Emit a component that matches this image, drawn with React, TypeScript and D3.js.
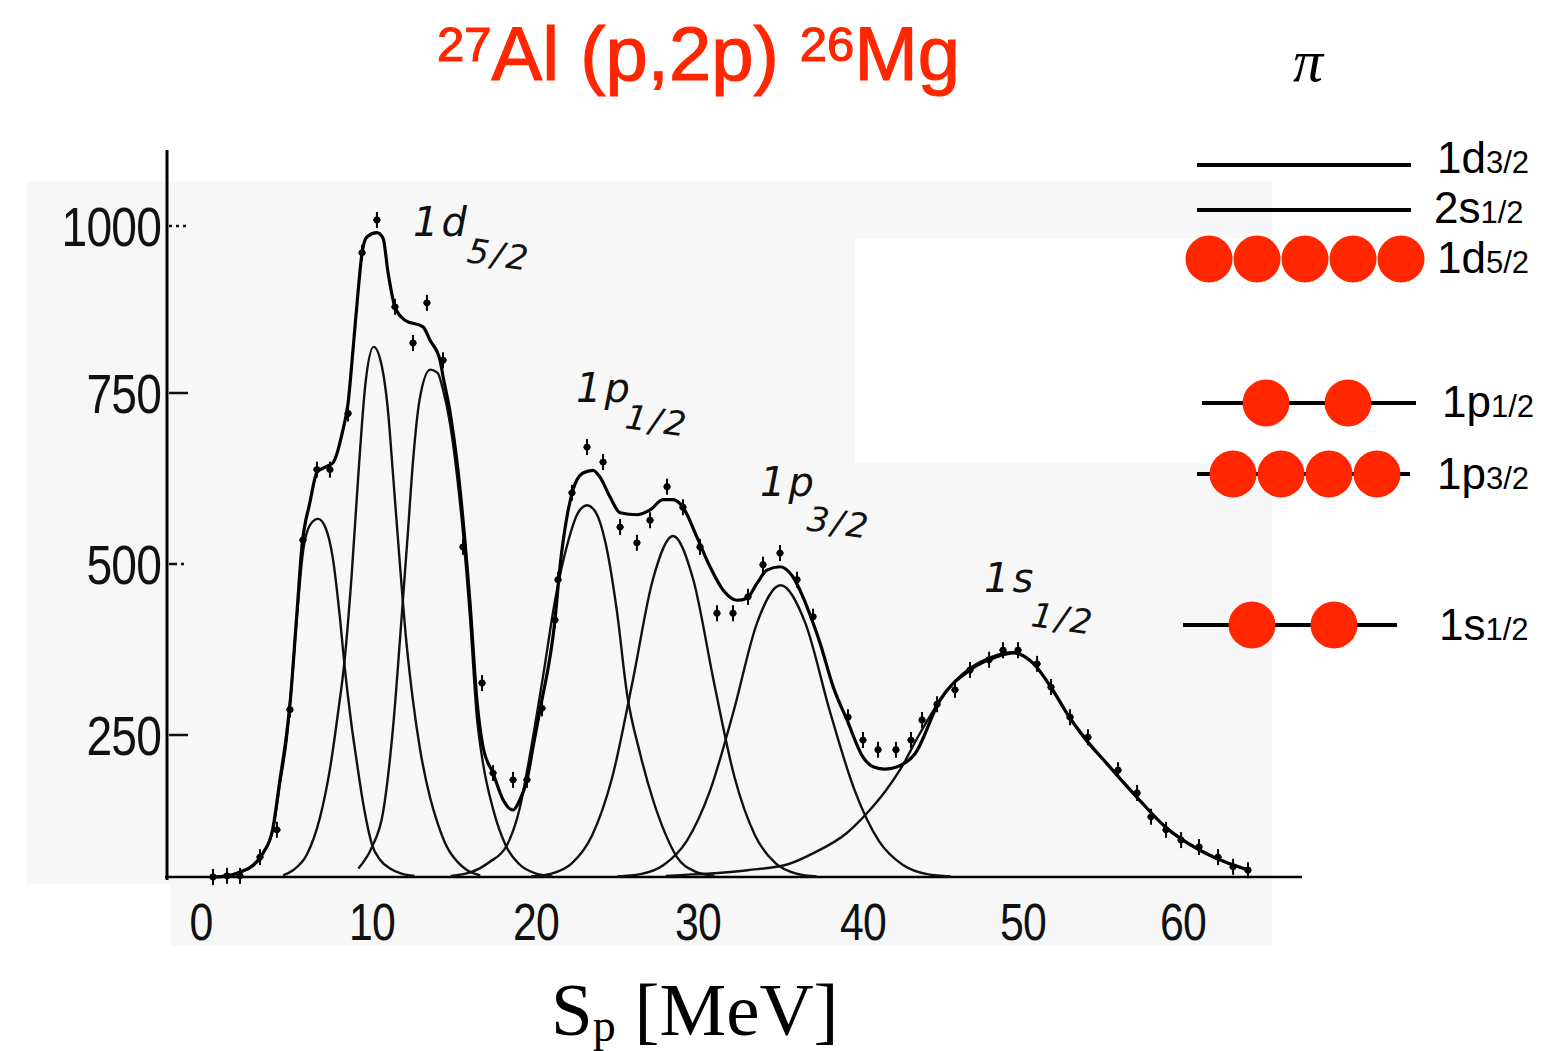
import React from "react";
import * as d3 from "d3";

// ---------- data (MeV, counts) ----------
const xTickValues = [0, 10, 20, 30, 40, 50, 60];
const yTickValues = [250, 500, 750, 1000];

// fitted components
const comp1d52a: [number, number][] = [[2.0,4],[2.8,16],[3.45,35],[4.2,83],[4.62,165],[5.0,240],[5.2,293],[5.6,420],[5.95,515],[6.4,558],[6.85,566],[7.3,552],[7.7,510],[8.13,420],[8.4,350],[8.8,265],[9.1,205],[9.42,141],[9.7,95],[10.0,57],[10.5,30],[11.1,15],[11.8,6],[12.6,2]];
const comp1d52b: [number, number][] = [[4.8,3],[5.38,12],[6.2,40],[6.96,105],[7.54,190],[8.0,280],[8.4,360],[8.8,480],[9.2,630],[9.6,760],[10.1,819],[10.6,790],[10.95,730],[11.3,625],[11.7,500],[12.1,385],[12.5,300],[12.93,225],[13.54,140],[14.0,95],[14.57,53],[15.2,27],[15.8,12],[16.6,3]];
const comp1d52c: [number, number][] = [[9.2,15],[10.0,53],[10.67,113],[11.28,260],[11.8,420],[12.2,550],[12.5,650],[12.9,740],[13.55,785],[14.0,780],[14.33,755],[14.76,705],[15.18,630],[15.49,560],[15.98,420],[16.4,275],[16.77,200],[17.38,120],[18.2,53],[19.0,22],[20.0,6],[21.0,1]];
const comp1p12: [number, number][] = [[14.8,2],[16.0,8],[17.15,26],[18.21,55],[19.0,120],[19.63,215],[20.43,335],[21.2,450],[21.95,530],[22.6,575],[23.15,586],[23.7,575],[24.3,530],[25.0,430],[25.62,310],[26.42,218],[27.22,136],[28.0,75],[28.7,35],[29.8,10],[31.0,2]];
const comp1p32a: [number, number][] = [[19.7,1],[20.96,6],[22.21,24],[23.46,73],[24.71,176],[25.96,328],[27.21,477],[28.46,541],[29.71,477],[30.96,328],[32.21,176],[33.46,73],[34.71,24],[35.96,6],[37.2,1]];
const comp1p32b: [number, number][] = [[25.0,1],[26.45,5],[27.88,21],[29.3,63],[30.73,152],[32.15,284],[33.58,414],[35.0,469],[36.5,414],[38.0,284],[39.5,152],[41.0,63],[42.5,21],[44.0,5],[45.5,1]];
const comp1s12: [number, number][] = [[28,2],[30,5],[33,12],[35.4,22],[37,42],[39,77],[40.3,114],[41.5,155],[42.3,188],[43.5,250],[44.8,300],[45.8,330],[46.7,348],[48,364],[49.3,371],[50.6,355],[51.8,318],[52.9,276],[54,238],[55.2,201],[57.1,141],[58.9,88],[61,48],[62.5,28],[64.1,12]];

// total fitted spectrum
const totalFit: [number, number][] = [[0.7,0],[1.5,2],[2.3,9],[3.04,20],[3.63,42],[4.2,85],[4.62,172],[5.0,250],[5.2,295],[5.6,425],[5.9,525],[6.37,590],[6.8,635],[7.3,642],[7.72,648],[8.3,696],[8.6,735],[8.89,815],[9.18,900],[9.42,960],[9.71,984],[10.3,990],[10.67,982],[10.98,930],[11.4,879],[12.01,859],[13.11,849],[13.54,829],[14.15,799],[14.33,775],[14.76,722],[15.18,650],[15.49,580],[15.98,442],[16.4,300],[16.77,229],[17.38,183],[17.99,136],[18.6,118],[19.02,136],[19.45,171],[19.82,229],[20.25,287],[21.17,418],[21.48,496],[21.91,569],[22.28,608],[22.9,633],[23.52,637],[23.95,627],[24.57,598],[25.19,575],[26.23,572],[27.04,579],[27.84,594],[28.46,594],[29.07,583],[29.94,539],[30.73,496],[31.52,462],[32.36,447],[32.97,450],[33.58,472],[34.18,491],[34.97,496],[35.76,481],[36.36,452],[36.97,414],[37.39,385],[38.2,320],[39.03,272],[40.0,211],[40.63,194],[41.3,190],[41.88,192],[43.25,217],[44.81,301],[46.69,345],[48.31,364],[49.44,370],[50.63,355],[51.8,318],[52.9,276],[54,240],[55.2,201],[57.1,141],[58.9,88],[61,48],[62.5,28],[64.1,12]];

// measured points
const measured: [number, number][] = [[0.7,0],[1.52,2],[2.28,2],[3.45,35],[4.44,83],[5.2,287],[5.96,535],[6.78,638],[7.54,638],[8.6,720],[9.42,960],[10.3,1009],[11.4,879],[12.5,825],[13.35,885],[14.33,799],[15.55,525],[16.71,326],[17.38,183],[18.6,171],[19.45,171],[20.37,289],[21.17,418],[21.36,477],[22.22,604],[23.15,671],[24.14,649],[25.19,554],[26.23,531],[27.04,564],[28.09,613],[29.07,583],[30.12,525],[31.15,428],[32.12,428],[33.03,452],[33.94,499],[34.97,516],[36.0,477],[36.97,423],[39.09,276],[40.0,241],[40.94,224],[42.06,224],[43.0,241],[43.69,272],[44.63,295],[45.75,316],[46.69,345],[47.88,360],[48.75,374],[49.69,374],[50.88,354],[51.75,320],[52.94,276],[54.06,246],[55.94,188],[57.13,148],[58.0,106],[58.94,83],[59.88,65],[61.0,53],[62.19,35],[63.13,18],[64.06,12]];

// shell-model levels (proton)
const levelOrbit = ["1d", "2s", "1d", "1p", "1p", "1s"];
const levelJ = ["3/2", "1/2", "5/2", "1/2", "3/2", "1/2"];
const levelOccupancy = [0, 0, 5, 2, 4, 2];

// peak annotations
const peakOrbit = ["1d", "1p", "1p", "1s"];
const peakJ = ["5/2", "1/2", "3/2", "1/2"];

const RED = "#ff2600";
const PAPER = "#f7f7f7";

export default function App() {
  const x = d3.scaleLinear().domain(xTickValues).range([201, 372, 536, 698, 863, 1023, 1183]);
  const y = d3.scaleLinear().domain([0, 250, 500, 750, 1000]).range([877, 735, 564, 393, 226]);
  const line = d3
    .line<[number, number]>()
    .x((d) => x(d[0]))
    .y((d) => y(d[1]))
    .curve(d3.curveMonotoneX);

  const components = [comp1d52a, comp1d52b, comp1d52c, comp1p12, comp1p32a, comp1p32b, comp1s12];

  // layout of level diagram
  const levelLayout = [
    { y: 165, x0: 1197, x1: 1411, cx: [] as number[], lx: 1437, ly: 173 },
    { y: 210, x0: 1197, x1: 1411, cx: [], lx: 1434, ly: 223 },
    { y: 259, x0: 1209, x1: 1401, cx: [1209, 1257, 1305, 1353, 1401], lx: 1437, ly: 273 },
    { y: 403, x0: 1202, x1: 1416, cx: [1266, 1348], lx: 1442, ly: 417 },
    { y: 474, x0: 1197, x1: 1410, cx: [1233, 1281, 1329, 1377], lx: 1437, ly: 489 },
    { y: 625, x0: 1183, x1: 1397, cx: [1252, 1334], lx: 1439, ly: 640 },
  ];

  const peakLabelPos = [
    { x: 413, y: 236, sx: 466, sy: 262 },
    { x: 576, y: 402, sx: 624, sy: 428 },
    { x: 760, y: 496, sx: 806, sy: 530 },
    { x: 984, y: 592, sx: 1030, sy: 626 },
  ];

  const tickFont = "'Liberation Sans', Arial, sans-serif";

  return (
    <svg
      width={1547}
      height={1051}
      style={{ position: "absolute", left: 0, top: 0, display: "block", background: "#fff" }}
    >
      <defs>
        <clipPath id="zeroClip">
          <rect x={0} y={0} width={170} height={884} />
        </clipPath>
      </defs>
      {/* scanned paper background */}
      <path d="M27,181 H1272 V238 H855 V463 H1272 V946 H170 V884 H27 Z" fill={PAPER} />

      {/* axes */}
      <line x1={167} y1={150} x2={167} y2={880} stroke="#000" strokeWidth={3} />
      <line x1={165} y1={877} x2={1302} y2={877} stroke="#000" strokeWidth={2.5} />

      {/* y ticks + labels */}
      {yTickValues.map((v, i) => (
        <g key={v}>
          <line
            x1={169}
            x2={188}
            y1={y(v)}
            y2={y(v)}
            stroke="#111"
            strokeWidth={2.5}
            strokeDasharray={i === 3 ? "3,4" : i === 1 ? "8,4,3,4" : undefined}
          />
          <text
            transform={`translate(161,${y(v) + 20}) scale(0.84,1)`}
            textAnchor="end"
            fontFamily={tickFont}
            fontSize={55}
            fill="#111"
            letterSpacing={-1}
          >
            {v}
          </text>
        </g>
      ))}
      <text
        transform={`translate(168,${y(0) + 40}) scale(0.84,1)`}
        textAnchor="end"
        fontFamily={tickFont}
        fontSize={55}
        fill="#111"
        clipPath="url(#zeroClip)"
      >
        0
      </text>

      {/* x tick labels */}
      {xTickValues.map((v) => (
        <text
          key={v}
          transform={`translate(${x(v)},940) scale(0.84,1)`}
          textAnchor="middle"
          fontFamily={tickFont}
          fontSize={51}
          fill="#111"
          letterSpacing={-1}
        >
          {v}
        </text>
      ))}

      {/* fitted components */}
      {components.map((c, i) => (
        <path key={i} d={line(c) || ""} fill="none" stroke="#111" strokeWidth={2.4} />
      ))}
      {/* total fit */}
      <path d={line(totalFit) || ""} fill="none" stroke="#000" strokeWidth={3.2} />

      {/* measured points */}
      {measured.map((d, i) => (
        <g key={i} transform={`translate(${x(d[0])},${y(d[1])})`}>
          <line x1={0} x2={0} y1={-8} y2={8} stroke="#000" strokeWidth={2} />
          <line x1={-3.5} x2={3.5} y1={0} y2={0} stroke="#000" strokeWidth={2} />
          <circle r={3.4} fill="#000" />
        </g>
      ))}

      {/* peak annotations (handwritten style) */}
      {peakOrbit.map((o, i) => {
        const p = peakLabelPos[i];
        return (
          <g key={i} fontFamily="'DejaVu Sans', sans-serif" fontStyle="italic" fill="#111">
            <text x={p.x} y={p.y} fontSize={40} letterSpacing={3}>
              {o}
            </text>
            <text transform={`translate(${p.sx},${p.sy}) rotate(8)`} fontSize={34} letterSpacing={3}>
              {peakJ[i]}
            </text>
          </g>
        );
      })}

      {/* title */}
      <text
        x={437}
        y={80}
        fill={RED}
        stroke={RED}
        strokeWidth={1.2}
        fontFamily="'Liberation Sans', Arial, Helvetica, sans-serif"
        fontSize={76}
      >
        <tspan fontSize={49} dy={-19}>27</tspan>
        <tspan dy={19}>{"Al (p,2p) "}</tspan>
        <tspan fontSize={49} dy={-19}>26</tspan>
        <tspan dy={19}>Mg</tspan>
      </text>

      {/* pi */}
      <text
        x={1308}
        y={81}
        textAnchor="middle"
        fontFamily="'Liberation Serif', 'Times New Roman', serif"
        fontStyle="italic"
        fontSize={60}
        fill="#000"
      >
        π
      </text>

      {/* level diagram */}
      {levelOrbit.map((o, i) => {
        const L = levelLayout[i];
        return (
          <g key={i}>
            {levelOccupancy[i] !== 5 && (
              <line x1={L.x0} x2={L.x1} y1={L.y} y2={L.y} stroke="#000" strokeWidth={4} />
            )}
            {L.cx.slice(0, levelOccupancy[i]).map((cx, j) => (
              <circle key={j} cx={cx} cy={L.y} r={23.5} fill={RED} />
            ))}
            <text
              x={L.lx}
              y={L.ly}
              fontFamily="'Liberation Sans', Arial, Helvetica, sans-serif"
              fontSize={44}
              fill="#000"
            >
              {o}
              <tspan fontSize={31}>{levelJ[i]}</tspan>
            </text>
          </g>
        );
      })}

      {/* x-axis title */}
      <text
        x={551}
        y={1035}
        fontFamily="'Liberation Serif', 'Times New Roman', serif"
        fontSize={75}
        fill="#000"
      >
        S
        <tspan fontSize={46} dy={6}>p</tspan>
        <tspan dy={-6}>{" [MeV]"}</tspan>
      </text>
    </svg>
  );
}
